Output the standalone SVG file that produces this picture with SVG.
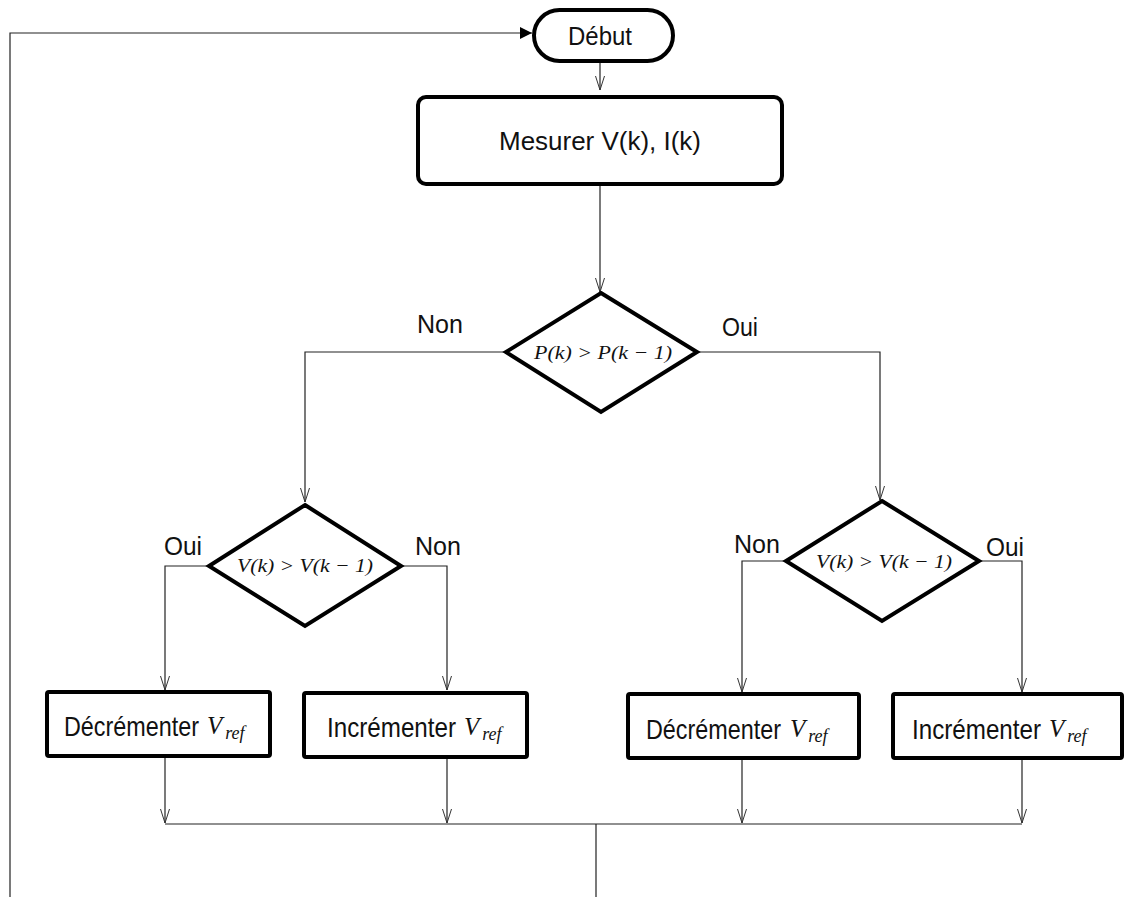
<svg xmlns="http://www.w3.org/2000/svg" width="1138" height="897" viewBox="0 0 1138 897">
<style>
.node{fill:#fff;stroke:#000;stroke-width:4}
.conn{fill:none;stroke:#222;stroke-width:1.2}
.lbl{font-family:"Liberation Sans",Arial,sans-serif;font-size:26px;fill:#111}
.math{font-family:"Liberation Serif","DejaVu Serif",serif;font-style:italic;font-size:19px;fill:#111}
.bt{font-family:"Liberation Sans",Arial,sans-serif;font-size:28px;fill:#111}
.mv{font-family:"Liberation Serif","DejaVu Serif",serif;font-style:italic;font-size:25px}
.ms{font-family:"Liberation Serif","DejaVu Serif",serif;font-style:italic;font-size:18px}
</style>
<defs>
<marker id="v" viewBox="0 0 14 10" refX="14" refY="5" markerWidth="14" markerHeight="10" markerUnits="userSpaceOnUse" orient="auto">
<path d="M0,0.5 L14,5 L0,9.5" fill="none" stroke="#333" stroke-width="1"/>
</marker>
<marker id="tri" viewBox="0 0 12 12" refX="12" refY="6" markerWidth="12" markerHeight="12" markerUnits="userSpaceOnUse" orient="auto">
<path d="M0,0 L12,6 L0,12 Z" fill="#000"/>
</marker>
</defs>
<g id="connectors">
<path class="conn" d="M10,897 V33 H532" marker-end="url(#tri)"/>
<path class="conn" d="M600,61 V90" marker-end="url(#v)"/>
<path class="conn" d="M600,184 V292" marker-end="url(#v)"/>
<path class="conn" d="M506,352 H305 V502" marker-end="url(#v)"/>
<path class="conn" d="M697,352 H880 V500" marker-end="url(#v)"/>
<path class="conn" d="M209,566 H165 V690" marker-end="url(#v)"/>
<path class="conn" d="M401,566 H447 V690" marker-end="url(#v)"/>
<path class="conn" d="M786,561 H742 V692" marker-end="url(#v)"/>
<path class="conn" d="M979,561 H1022 V692" marker-end="url(#v)"/>
<path class="conn" d="M165,757 V823" marker-end="url(#v)"/>
<path class="conn" d="M447,758 V823" marker-end="url(#v)"/>
<path class="conn" d="M742,759 V823" marker-end="url(#v)"/>
<path class="conn" d="M1022,759 V823" marker-end="url(#v)"/>
<path class="conn" d="M165,824 H1022 M596,824 V897"/>
</g>
<g id="debut">
<rect class="node" x="534" y="10" width="139" height="51" rx="25.5"/>
<text class="lbl" x="600" y="45" text-anchor="middle" font-size="27" textLength="64" lengthAdjust="spacingAndGlyphs">Début</text>
</g>
<g id="mesurer">
<rect class="node" x="418" y="97" width="364" height="87" rx="8"/>
<text class="lbl" x="600" y="150" text-anchor="middle" font-size="30" textLength="202" lengthAdjust="spacingAndGlyphs">Mesurer V(k), I(k)</text>
</g>
<g id="dec1">
<path class="node" d="M601,293 L697,352 L601,412 L506,352 Z"/>
<text class="math" x="603" y="359" text-anchor="middle" textLength="138" lengthAdjust="spacingAndGlyphs">P(k) &gt; P(k − 1)</text>
<text class="lbl" x="440" y="333" text-anchor="middle" font-size="27" textLength="46" lengthAdjust="spacingAndGlyphs">Non</text>
<text class="lbl" x="740" y="336" text-anchor="middle" font-size="27" textLength="36" lengthAdjust="spacingAndGlyphs">Oui</text>
</g>
<g id="dec2">
<path class="node" d="M305,505 L401,566 L305,626 L209,566 Z"/>
<text class="math" x="305" y="572" text-anchor="middle" textLength="136" lengthAdjust="spacingAndGlyphs">V(k) &gt; V(k − 1)</text>
<text class="lbl" x="183" y="555" text-anchor="middle" font-size="27" textLength="38" lengthAdjust="spacingAndGlyphs">Oui</text>
<text class="lbl" x="438" y="555" text-anchor="middle" font-size="27" textLength="46" lengthAdjust="spacingAndGlyphs">Non</text>
</g>
<g id="dec3">
<path class="node" d="M882,501 L979,561 L882,621 L786,561 Z"/>
<text class="math" x="884" y="568" text-anchor="middle" textLength="136" lengthAdjust="spacingAndGlyphs">V(k) &gt; V(k − 1)</text>
<text class="lbl" x="757" y="553" text-anchor="middle" font-size="27" textLength="46" lengthAdjust="spacingAndGlyphs">Non</text>
<text class="lbl" x="1005" y="556" text-anchor="middle" font-size="27" textLength="38" lengthAdjust="spacingAndGlyphs">Oui</text>
</g>
<g id="box1">
<rect class="node" x="47" y="692" width="223" height="64" rx="2"/>
<text class="bt" y="736"><tspan x="64" textLength="135" lengthAdjust="spacingAndGlyphs">Décrémenter</tspan><tspan class="mv" x="207" dy="-2">V</tspan><tspan class="ms" dx="3" dy="5">ref</tspan></text>
</g>
<g id="box2">
<rect class="node" x="304" y="693" width="223" height="64" rx="2"/>
<text class="bt" y="737"><tspan x="327" textLength="129" lengthAdjust="spacingAndGlyphs">Incrémenter</tspan><tspan class="mv" x="464" dy="-2">V</tspan><tspan class="ms" dx="3" dy="5">ref</tspan></text>
</g>
<g id="box3">
<rect class="node" x="628" y="694" width="231" height="64" rx="2"/>
<text class="bt" y="739"><tspan x="646" textLength="135" lengthAdjust="spacingAndGlyphs">Décrémenter</tspan><tspan class="mv" x="790" dy="-2">V</tspan><tspan class="ms" dx="3" dy="5">ref</tspan></text>
</g>
<g id="box4">
<rect class="node" x="893" y="694" width="229" height="64" rx="2"/>
<text class="bt" y="739"><tspan x="912" textLength="129" lengthAdjust="spacingAndGlyphs">Incrémenter</tspan><tspan class="mv" x="1049" dy="-2">V</tspan><tspan class="ms" dx="3" dy="5">ref</tspan></text>
</g>
</svg>
